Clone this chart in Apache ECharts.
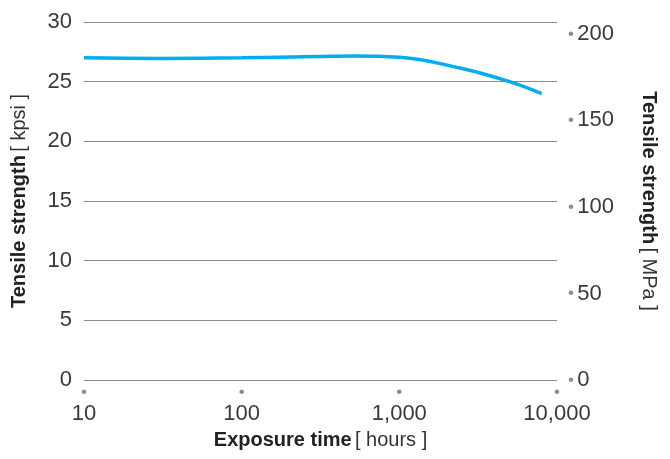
<!DOCTYPE html>
<html>
<head>
<meta charset="utf-8">
<script src="https://cdn.jsdelivr.net/npm/echarts@6/dist/echarts.min.js"></script>
<style>
  html, body { margin: 0; padding: 0; background: #fff; }
  #chart { width: 670px; height: 459px; }
</style>
</head>
<body>
<div id="chart"></div>
<script>
// exposure time (hours) vs tensile strength (kpsi)
const hours = [10, 30, 100, 300, 500, 1000, 2500, 5000, 8000];
const strengthKpsi = [27.0, 26.95, 27.0, 27.1, 27.15, 27.05, 26.1, 25.0, 24.0];
const leftTicks = [0, 5, 10, 15, 20, 25, 30];
const rightTicks = [0, 50, 100, 150, 200];
const KPSI_TO_MPA = 6.8948;

const font = 'Liberation Sans, Helvetica, Arial, sans-serif';
const chart = echarts.init(document.getElementById('chart'));

const nameRich = {
    b: { fontSize: 20, fontWeight: 'bold', color: '#222', fontFamily: font },
    n: { fontSize: 20, color: '#333', fontFamily: font }
};

chart.setOption({
    animation: false,
    grid: { left: 84, right: 113, top: 22, bottom: 79 },
    xAxis: {
        type: 'log',
        logBase: 10,
        min: 10,
        max: 10000,
        axisLine: { show: false },
        axisTick: { show: false },
        splitLine: { show: false },
        axisLabel: {
            margin: 5,
            formatter: v => '{d|•}\n{v|' + Number(v).toLocaleString('en-US') + '}',
            rich: {
                d: { color: '#8c8c8c', fontSize: 17, lineHeight: 15, fontFamily: font },
                v: { color: '#3a3a3a', fontSize: 22, lineHeight: 27, fontFamily: font }
            }
        },
        name: '{b|Exposure time} {n|[ hours ]}',
        nameLocation: 'middle',
        nameGap: 50,
        nameTextStyle: { rich: nameRich }
    },
    yAxis: [{
        type: 'value',
        min: leftTicks[0],
        max: leftTicks[leftTicks.length - 1],
        interval: 5,
        axisLine: { show: false },
        axisTick: { show: false },
        splitLine: { lineStyle: { color: '#8a8a8a', width: 1 } },
        axisLabel: { color: '#3a3a3a', fontSize: 22, margin: 12, fontFamily: font },
        name: '{b|Tensile strength} {n|[ kpsi ]}',
        nameLocation: 'middle',
        nameGap: 55,
        nameTextStyle: { rich: nameRich }
    }, {
        type: 'value',
        position: 'right',
        min: 0,
        max: leftTicks[leftTicks.length - 1] * KPSI_TO_MPA,
        interval: 50,
        axisLine: { show: false },
        axisTick: { show: false },
        splitLine: { show: false },
        axisLabel: {
            margin: 11,
            formatter: v => rightTicks.includes(v) ? '{d|•} {v|' + v + '}' : '',
            rich: {
                d: { color: '#8c8c8c', fontSize: 17, fontFamily: font },
                v: { color: '#3a3a3a', fontSize: 22, fontFamily: font }
            }
        },
        name: '{b|Tensile strength} {n|[ MPa ]}',
        nameLocation: 'middle',
        nameRotate: -90,
        nameGap: 82,
        nameTextStyle: { rich: nameRich }
    }],
    series: [{
        type: 'line',
        yAxisIndex: 0,
        data: hours.map((h, i) => [h, strengthKpsi[i]]),
        smooth: 0.4,
        showSymbol: false,
        lineStyle: { color: '#00aeef', width: 3.5 }
    }]
});
</script>
</body>
</html>
